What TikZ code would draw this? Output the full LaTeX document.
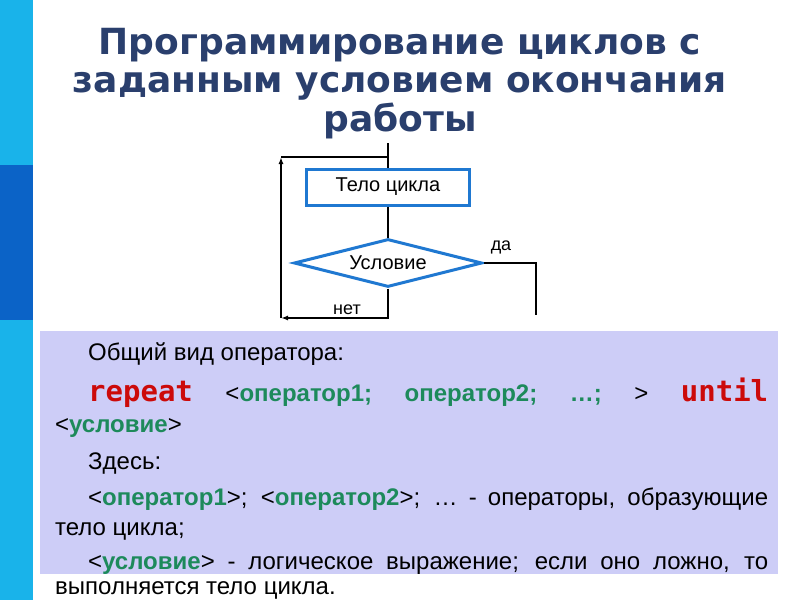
\documentclass[tikz,border=0pt]{standalone}
\usepackage{fontspec}
\setmainfont{Liberation Sans}
\newfontfamily\titlefont{DejaVu Sans}
\newfontfamily\codefont{DejaVu Sans Mono}
\usepackage{tikz}
\usetikzlibrary{arrows.meta,shapes.geometric,positioning}
\definecolor{titleblue}{HTML}{2A3F6D}
\definecolor{stripblue}{HTML}{19B3EA}
\definecolor{stripdark}{HTML}{0B63C7}
\definecolor{boxblue}{HTML}{1F78D1}
\definecolor{panelback}{HTML}{CDCDF7}
\definecolor{kwred}{HTML}{CC0A0A}
\definecolor{opgreen}{HTML}{1D8A5B}
\newcommand{\kw}[1]{{\codefont\bfseries\fontsize{29}{32}\selectfont\color{kwred}#1}}
\newcommand{\op}[1]{{\bfseries\color{opgreen}#1}}

\begin{document}
\begin{tikzpicture}[x=1pt, y=-1pt,
  flow/.style={line width=1.5pt, black},
  blockbox/.style={draw=boxblue, line width=3pt, fill=white, minimum width=163pt,
    minimum height=36pt, inner sep=0pt, font=\fontsize{20}{23}\selectfont},
  condbox/.style={diamond, aspect=3.8, draw=boxblue, line width=3pt, fill=white,
    minimum width=188pt, minimum height=48pt, inner sep=0pt, font=\fontsize{20}{23}\selectfont},
  tag/.style={inner sep=0pt, font=\fontsize{18}{21}\selectfont},
  bodytext/.style={anchor=base west, inner sep=0pt, font=\fontsize{24}{27}\selectfont}]
  \useasboundingbox (0,0) rectangle (800,600);

  % side strip and panel
  \fill[stripblue] (0,0) rectangle (33,600);
  \fill[stripdark] (0,165) rectangle (33,320);
  \fill[panelback] (40,331) rectangle (778,574);

  \node (title) [align=center, anchor=north, inner sep=0pt, text=titleblue,
    font=\titlefont\bfseries\fontsize{36}{38.5}\selectfont] at (400,28)
    {Программирование циклов с\\заданным условием окончания\\работы};

  % flowchart
  \node (body) [blockbox] at (388,187) {Тело цикла};
  \node (cond) [condbox] at (388,263) {Условие};
  \coordinate (entry) at (388,143);
  \coordinate (join) at (388,157);
  \coordinate (lefttop) at (281,157);
  \coordinate (leftbot) at (281,318);
  \coordinate (nobend) at (388,318);
  \coordinate (yesbend) at (536,263);
  \coordinate (yesend) at (536,315);
  \draw[flow] (entry) -- (body.north);
  \draw[flow] (body.south) -- (cond.north);
  \draw[flow, -{Latex[length=7pt,width=5pt]}] (cond.south) -- (nobend) -- (leftbot);
  \draw[flow, -{Latex[length=7pt,width=5pt]}] (leftbot) -- (lefttop);
  \draw[flow] (lefttop) -- (join);
  \draw[flow] (cond.east) -- (yesbend) -- (yesend);
  \node (yes) [tag] at (501,247) {да};
  \node (no) [tag] at (347,310) {нет};

  % operator text
  \node (general) [bodytext] at (88,360) {Общий вид оператора:};
  \node (syntax) [bodytext] at (88,401) {\makebox[680pt][s]{\kw{repeat}\hfill
    <\op{оператор1;}\hfill\op{оператор2;}\hfill\op{…;}\hfill>\hfill\kw{until}}};
  \node (cond1) [bodytext] at (55,432) {<\op{условие}>};
  \node (here) [bodytext] at (88,469) {Здесь:};
  \node (ops) [bodytext] at (88,505) {\makebox[680pt][s]{<\op{оператор1}>; <\op{оператор2}>; … - операторы, образующие}};
  \node (ops2) [bodytext] at (55,535) {тело цикла;};
  \node (cond2) [bodytext] at (88,569) {\makebox[680pt][s]{<\op{условие}> - логическое выражение; если оно ложно, то}};
  \node (cond3) [bodytext] at (55,594) {выполняется тело цикла.};
\end{tikzpicture}
\end{document}
